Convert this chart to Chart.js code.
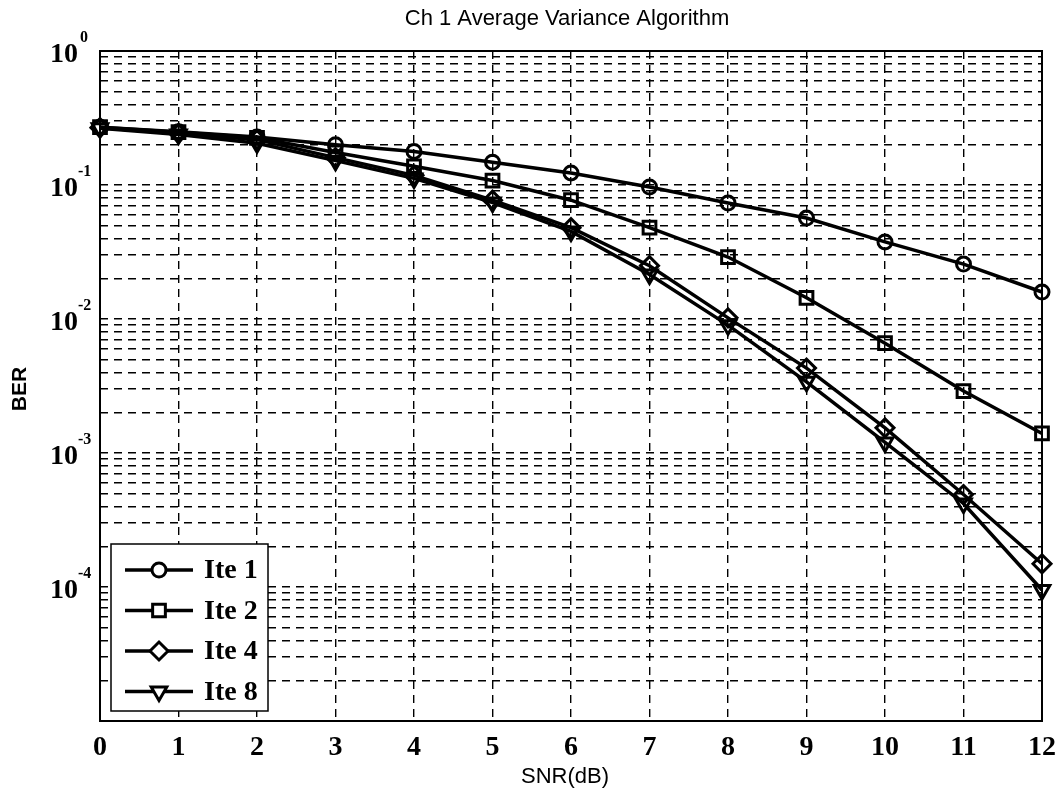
<!DOCTYPE html>
<html>
<head>
<meta charset="utf-8">
<script src="https://cdn.jsdelivr.net/npm/chart.js@4.4.0/dist/chart.umd.min.js"></script>
<style>
  html, body { margin: 0; padding: 0; background: #fff; }
  #wrap { width: 1058px; height: 790px; }
</style>
</head>
<body>
<div id="wrap"><canvas id="berChart" width="1058" height="790"></canvas></div>
<script>
// BER vs SNR
const snrDb = [0, 1, 2, 3, 4, 5, 6, 7, 8, 9, 10, 11, 12];
const ite1 = [0.27, 0.25, 0.228, 0.2, 0.178, 0.148, 0.123, 0.0966, 0.0734, 0.0567, 0.0376, 0.0257, 0.0159];
const ite2 = [0.27, 0.248, 0.225, 0.175, 0.138, 0.108, 0.077, 0.048, 0.029, 0.0144, 0.0066, 0.0029, 0.0014];
const ite4 = [0.268, 0.243, 0.218, 0.16, 0.118, 0.077, 0.048, 0.025, 0.0102, 0.0043, 0.00154, 0.00049, 0.000149];
const ite8 = [0.265, 0.238, 0.205, 0.152, 0.112, 0.074, 0.045, 0.0215, 0.009, 0.0034, 0.0012, 0.00042, 0.000095];

const seriesLabels = ['Ite 1', 'Ite 2', 'Ite 4', 'Ite 8'];
const seriesValues = [ite1, ite2, ite4, ite8];
const markerStyles = ['circle', 'rect', 'rectRot', 'triangle'];
const markerRadius = [7, 9, 9, 9];
const markerRotation = [0, 0, 0, 180];

const xTicks = [0, 1, 2, 3, 4, 5, 6, 7, 8, 9, 10, 11, 12];
const yDecadeExps = [-5, -4, -3, -2, -1, 0];   // grid decades
const yLabelExps = [0, -1, -2, -3, -4];        // decades that get a label

const titleText = 'Ch 1 Average Variance Algorithm';
const xTitle = 'SNR(dB)';
const yTitle = 'BER';

const serif = '"Liberation Serif", "Times New Roman", serif';
const sans = '"Liberation Sans", Arial, sans-serif';

// log grid: 1..9 x 10^e for every decade, plus the top decade
function buildLogTicks() {
    const ticks = [];
    for (let i = 0; i < yDecadeExps.length - 1; i++) {
        for (let m = 1; m <= 9; m++) {
            ticks.push({ value: m * Math.pow(10, yDecadeExps[i]) });
        }
    }
    ticks.push({ value: Math.pow(10, yDecadeExps[yDecadeExps.length - 1]) });
    return ticks;
}

const decor = {
    id: 'matlabDecor',
    beforeDraw(chart) {
        const ctx = chart.ctx;
        ctx.save();
        ctx.fillStyle = '#fff';
        ctx.fillRect(0, 0, chart.width, chart.height);
        ctx.restore();
    },
    afterDraw(chart) {
        const ctx = chart.ctx;
        const area = chart.chartArea;
        const yScale = chart.scales.y;
        ctx.save();

        // axes box
        ctx.strokeStyle = '#000';
        ctx.lineWidth = 2;
        ctx.setLineDash([]);
        ctx.strokeRect(area.left, area.top, area.right - area.left, area.bottom - area.top);

        // y tick labels 10^n
        ctx.fillStyle = '#000';
        yLabelExps.forEach(e => {
            const py = yScale.getPixelForValue(Math.pow(10, e));
            ctx.font = 'bold 28px ' + serif;
            ctx.textAlign = 'right';
            ctx.textBaseline = 'alphabetic';
            ctx.fillText('10', 78, py + 11);
            ctx.font = 'bold 16px ' + serif;
            ctx.textAlign = 'left';
            ctx.fillText(e === 0 ? '0' : '-' + Math.abs(e), e === 0 ? 80 : 78, py - 9);
        });

        // title and axis titles
        ctx.font = '22px ' + sans;
        ctx.textAlign = 'center';
        ctx.textBaseline = 'middle';
        ctx.fillText(titleText, (area.left + area.right) / 2 - 4, 19);
        ctx.fillText(xTitle, (area.left + area.right) / 2 - 6, 777);

        ctx.save();
        ctx.translate(20, 389);
        ctx.rotate(-Math.PI / 2);
        ctx.font = 'bold 21px ' + sans;
        ctx.fillText(yTitle, 0, 0);
        ctx.restore();

        // legend box, bottom left inside the axes
        const lx = 111, ly = 544, lw = 157, lh = 167;
        ctx.fillStyle = '#fff';
        ctx.fillRect(lx, ly, lw, lh);
        ctx.strokeStyle = '#000';
        ctx.lineWidth = 1.5;
        ctx.strokeRect(lx, ly, lw, lh);

        seriesLabels.forEach((label, i) => {
            const iy = 570 + i * 40.5;
            ctx.strokeStyle = '#000';
            ctx.lineWidth = 3.5;
            ctx.beginPath();
            ctx.moveTo(125, iy);
            ctx.lineTo(193, iy);
            ctx.stroke();
            ctx.lineWidth = 3;
            ctx.fillStyle = '#fff';
            Chart.helpers.drawPoint(ctx, {
                pointStyle: markerStyles[i],
                radius: markerRadius[i],
                rotation: markerRotation[i],
                borderWidth: 3
            }, 159, iy);
            ctx.fillStyle = '#000';
            ctx.font = 'bold 28px ' + serif;
            ctx.textAlign = 'left';
            ctx.textBaseline = 'middle';
            ctx.fillText(label, 204, iy + 1);
        });

        ctx.restore();
    }
};

const datasets = seriesLabels.map((label, i) => ({
    label: label,
    data: snrDb.map((x, k) => ({ x: x, y: seriesValues[i][k] })),
    borderColor: '#000',
    borderWidth: 3.5,
    backgroundColor: 'rgba(0,0,0,0)',
    pointStyle: markerStyles[i],
    pointRadius: markerRadius[i],
    pointRotation: markerRotation[i],
    pointBorderWidth: 3,
    pointBorderColor: '#000',
    pointBackgroundColor: 'rgba(0,0,0,0)',
    tension: 0,
    fill: false,
    clip: 12
}));

new Chart(document.getElementById('berChart'), {
    type: 'line',
    data: { datasets: datasets },
    options: {
        responsive: false,
        animation: false,
        devicePixelRatio: 1,
        layout: { padding: { top: 51, right: 16, left: 0, bottom: 0 } },
        plugins: {
            legend: { display: false },
            title: { display: false },
            tooltip: { enabled: false }
        },
        scales: {
            x: {
                type: 'linear',
                min: 0,
                max: 12,
                afterFit: s => { s.height = 69; s.paddingLeft = 0; s.paddingRight = 0; },
                afterBuildTicks: s => { s.ticks = xTicks.map(v => ({ value: v })); },
                grid: { color: '#000', lineWidth: 1.4, drawTicks: false },
                border: { display: false, dash: [8, 6] },
                ticks: {
                    color: '#000',
                    padding: 10,
                    maxRotation: 0,
                    font: { family: serif, size: 28, weight: 'bold' },
                    callback: v => String(v)
                }
            },
            y: {
                type: 'logarithmic',
                min: 1e-5,
                max: 1,
                afterFit: s => { s.width = 100; s.paddingTop = 0; s.paddingBottom = 0; },
                afterBuildTicks: s => { s.ticks = buildLogTicks(); },
                grid: { color: '#000', lineWidth: 1.4, drawTicks: false },
                border: { display: false, dash: [8, 6] },
                ticks: { display: false }
            }
        }
    },
    plugins: [decor]
});
</script>
</body>
</html>
